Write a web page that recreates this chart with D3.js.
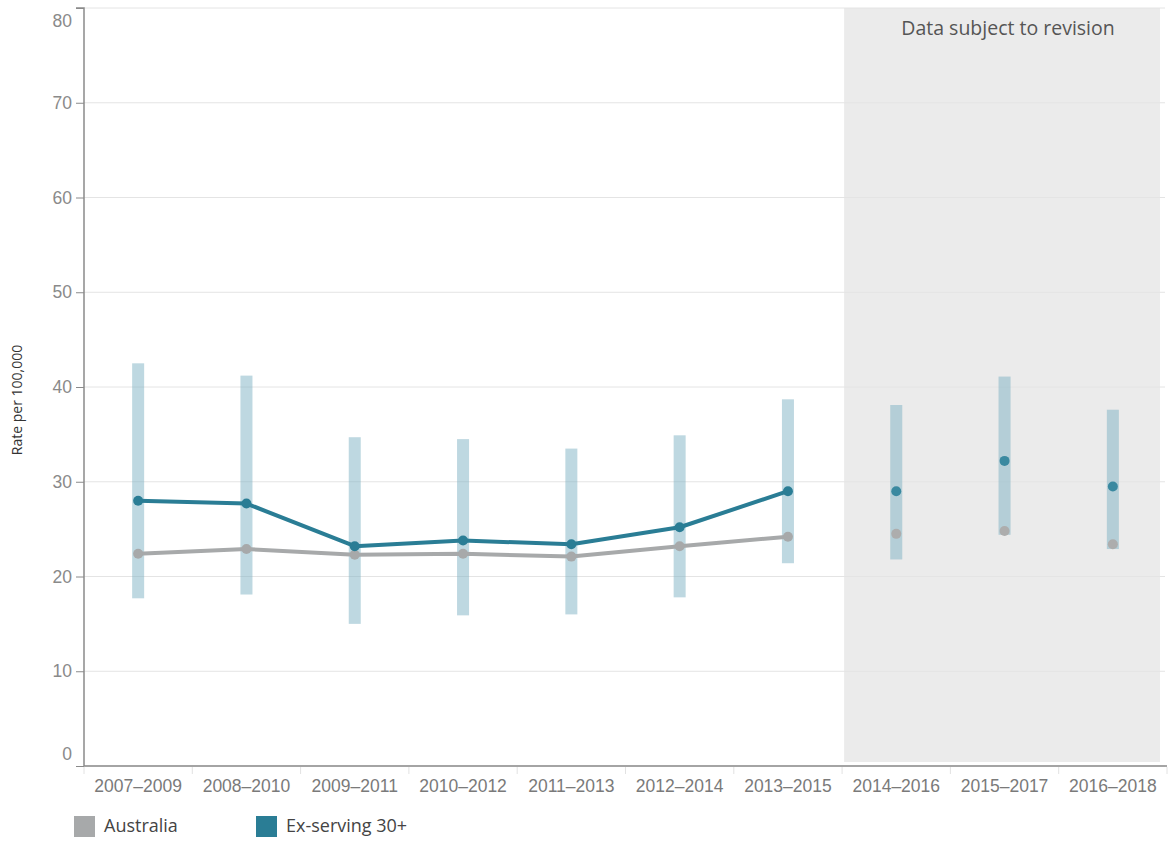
<!DOCTYPE html>
<html><head><meta charset="utf-8">
<script src="https://cdn.jsdelivr.net/npm/d3@7"></script>
<style>body{margin:0;background:#fff;} svg{display:block;font-family:"Open Sans",Lato,sans-serif;}</style>
</head><body>
<svg id="chart" width="1169" height="841"></svg>
<script>
const categories = ["2007–2009","2008–2010","2009–2011","2010–2012","2011–2013","2012–2014","2013–2015","2014–2016","2015–2017","2016–2018"];
const exServing = [28.0,27.7,23.2,23.8,23.4,25.2,29.0,29.0,32.2,29.5];
const exLower = [17.7,18.1,15.0,15.9,16.0,17.8,21.4,21.8,24.4,22.9];
const exUpper = [42.5,41.2,34.7,34.5,33.5,34.9,38.7,38.1,41.1,37.6];
const australia = [22.4,22.9,22.3,22.4,22.1,23.2,24.2,24.5,24.8,23.4];
const revisionCategories = ["2014–2016","2015–2017","2016–2018"];
const yTicks = [0,10,20,30,40,50,60,70,80];
const seriesNames = ["Australia","Ex-serving 30+"];

const svg = d3.select("#chart");
const L = 84, R = 1167, T = 8, B = 766;
const x = d3.scaleBand().domain(categories).range([L, R]).padding(0);
const y = d3.scaleLinear().domain([0, 80]).range([B, T]);
const cx = c => x(c) + x.bandwidth() / 2;

// shaded revision region
const r0 = x(revisionCategories[0]);
svg.append("rect").attr("x", r0 + 2).attr("y", T).attr("width", 1160 - r0 - 2).attr("height", 762 - T).attr("fill", "#ebebeb");

// gridlines
svg.append("g").selectAll("line").data(yTicks).join("line")
  .attr("x1", L).attr("x2", R - 2).attr("y1", d => y(d)).attr("y2", d => y(d))
  .attr("stroke", "#e4e4e4").attr("stroke-width", 1);

svg.append("text").attr("x", 1008).attr("y", 35).attr("text-anchor", "middle")
  .attr("font-size", 19.5).attr("fill", "#555").text("Data subject to revision");

// y axis
const yAxis = svg.append("g").attr("transform", `translate(${L},0)`)
  .call(d3.axisLeft(y).tickValues(yTicks).tickSize(8).tickPadding(4));
yAxis.select(".domain").attr("stroke", "#8a8a8a").attr("stroke-width", 1.5).attr("d", `M-8,${T}H0V${B}`);
yAxis.selectAll(".tick line").attr("stroke", "#8a8a8a");
yAxis.selectAll(".tick text").attr("font-size", 17.5).attr("fill", "#8a8a8a")
  .attr("dy", d => d === 80 ? "1.05em" : d === 0 ? "-0.4em" : "0.32em");

// x axis
const xAxis = svg.append("g").attr("transform", `translate(0,${B})`)
  .call(d3.axisBottom(x).tickSize(0).tickPadding(12));
xAxis.select(".domain").attr("stroke", "#8a8a8a").attr("stroke-width", 1.5).attr("d", `M${L},0H${R}`);
xAxis.selectAll(".tick text").attr("font-size", 17.5).attr("fill", "#7a7a7a").attr("dy", "0.78em");
svg.append("g").selectAll("line").data(categories.concat(["end"])).join("line")
  .attr("x1", (d, i) => L + i * x.bandwidth()).attr("x2", (d, i) => L + i * x.bandwidth())
  .attr("y1", B + 1).attr("y2", B + 8).attr("stroke", "#e2e2e2");

// CI bars
svg.append("g").selectAll("rect").data(categories).join("rect")
  .attr("x", c => cx(c) - 6).attr("width", 12)
  .attr("y", (c, i) => y(exUpper[i])).attr("height", (c, i) => y(exLower[i]) - y(exUpper[i]))
  .attr("fill", "rgb(126,178,196)").attr("fill-opacity", 0.5);

const nLine = categories.indexOf(revisionCategories[0]);
const line = d3.line().x(d => cx(d.c)).y(d => y(d.v));
const ausData = categories.map((c, i) => ({c, v: australia[i]}));
const exData = categories.map((c, i) => ({c, v: exServing[i]}));

svg.append("path").datum(ausData.slice(0, nLine)).attr("d", line)
  .attr("fill", "none").attr("stroke", "#a7a9aa").attr("stroke-width", 4).attr("stroke-linejoin", "round");
svg.append("g").selectAll("circle").data(ausData).join("circle")
  .attr("cx", d => cx(d.c)).attr("cy", d => y(d.v)).attr("r", 5)
  .attr("fill", (d, i) => i < nLine ? "#a7a9aa" : "#adadad");

svg.append("path").datum(exData.slice(0, nLine)).attr("d", line)
  .attr("fill", "none").attr("stroke", "#2a7d95").attr("stroke-width", 4).attr("stroke-linejoin", "round");
svg.append("g").selectAll("circle").data(exData).join("circle")
  .attr("cx", d => cx(d.c)).attr("cy", d => y(d.v)).attr("r", 5)
  .attr("fill", (d, i) => i < nLine ? "#2a7d95" : "#3a89a0");

// y title
svg.append("text").attr("transform", "translate(22,400) rotate(-90)").attr("text-anchor", "middle")
  .attr("font-size", 14).attr("font-weight", 500).attr("fill", "#333").text("Rate per 100,000");

// legend
const legColors = ["#a7a9aa", "#2a7d95"];
const legX = [74, 256];
const leg = svg.append("g").selectAll("g").data(seriesNames).join("g")
  .attr("transform", (d, i) => `translate(${legX[i]},816)`);
leg.append("rect").attr("width", 21).attr("height", 21).attr("fill", (d, i) => legColors[i]);
leg.append("text").attr("x", 30).attr("y", 16).attr("font-size", 18).attr("fill", "#444").text(d => d);
</script>
</body></html>
